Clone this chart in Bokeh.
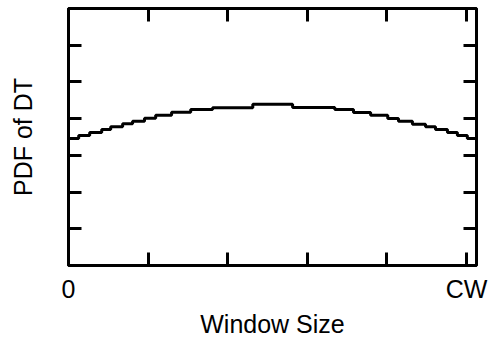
from bokeh.plotting import figure
from bokeh.models import Range1d, FixedTicker, LinearAxis, CustomLabelingPolicy
from bokeh.embed import file_html
from bokeh.resources import INLINE

# ---- data (x in % of CW, y in arbitrary PDF units) ----
x_ticks = [0, 20, 40, 60, 80, 100]
x_tick_labels = ["0", "", "", "", "", "CW"]
y_ticks = [1, 2, 3, 4, 5, 6]
x_max = 102.5
y_max = 7

step_x = [0, 2.56, 5.32, 8.34, 10.6, 13.6, 16.1, 19.1, 21.9, 25.9, 30.7, 36.2,
          46.3, 56.3, 66.9, 71.6, 75.9, 80.2, 82.9, 86.4, 89.7, 92.2, 95.2, 97.7, 100.2]
pdf_dt = [3.461, 3.542, 3.624, 3.705, 3.776, 3.858, 3.931, 4.013, 4.094, 4.176, 4.249, 4.298,
          4.393, 4.303, 4.249, 4.167, 4.094, 4.004, 3.931, 3.850, 3.776, 3.705, 3.624, 3.542, 3.461]

x_label = "Window Size"
y_label = "PDF of DT"

FONT = "Liberation Sans"
FS = "25px"

p = figure(width=488, height=340, output_backend="svg", toolbar_location=None,
           x_range=Range1d(0, x_max), y_range=Range1d(0, y_max),
           min_border_left=68, min_border_right=12, min_border_top=8, min_border_bottom=74)
p.grid.visible = False
p.outline_line_color = "black"
p.outline_line_width = 3
p.background_fill_color = "white"
p.border_fill_color = "white"

top = LinearAxis()
right = LinearAxis()
p.add_layout(top, "above")
p.add_layout(right, "right")
bottom = p.below[0]
left = p.left[0]

for ax in [bottom, top]:
    ax.ticker = FixedTicker(ticks=x_ticks)
for ax in [left, right]:
    ax.ticker = FixedTicker(ticks=y_ticks)

for ax in [bottom, left, top, right]:
    ax.axis_line_width = 3
    ax.axis_line_color = "black"
    ax.major_tick_in = 13
    ax.major_tick_out = 0
    ax.major_tick_line_width = 3
    ax.major_tick_line_color = "black"
    ax.minor_tick_line_color = None
    ax.major_label_standoff = 0

# axes whose tick marks carry no labels: draw no tick labels at all
no_labels = "for (const i of indices) { indices.unset(i) } return indices"
for ax in [left, top, right]:
    ax.major_label_text_font_size = "0px"
    ax.major_label_policy = CustomLabelingPolicy(code=no_labels)

# bottom: only the labelled ticks show text
keep_labels = "for (const i of indices) { if (i != 0 && i != 5) { indices.unset(i) } } return indices"
bottom.major_label_overrides = {v: t for v, t in zip(x_ticks, x_tick_labels)}
bottom.major_label_policy = CustomLabelingPolicy(code=keep_labels)
bottom.major_label_text_font = FONT
bottom.major_label_text_font_size = FS
bottom.major_label_text_color = "black"
bottom.major_label_standoff = 9
bottom.axis_label = x_label
bottom.axis_label_text_font = FONT
bottom.axis_label_text_font_size = FS
bottom.axis_label_text_font_style = "normal"
bottom.axis_label_text_color = "black"
bottom.axis_label_standoff = 4

left.axis_label = y_label
left.axis_label_text_font = FONT
left.axis_label_text_font_size = FS
left.axis_label_text_font_style = "normal"
left.axis_label_text_color = "black"
left.axis_label_standoff = 32

p.step(x=step_x + [x_max], y=pdf_dt + [pdf_dt[-1]], mode="after",
       line_width=3, line_color="black")

open("out.html", "w").write(file_html(p, INLINE))
